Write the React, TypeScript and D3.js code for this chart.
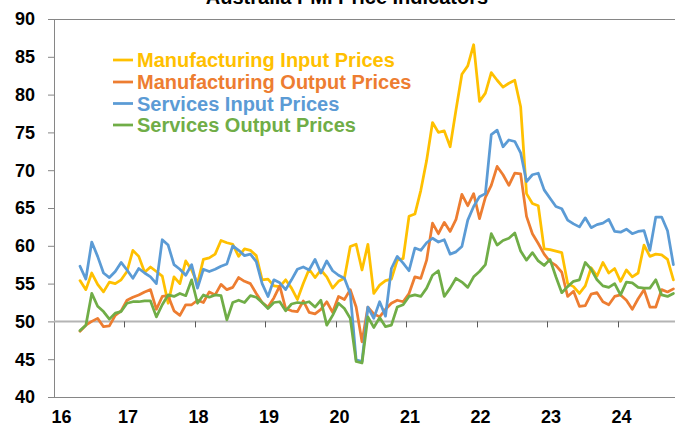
import React from 'react';
import * as d3 from 'd3';

const TITLE = 'Australia PMI Price Indicators';
const seriesNames = [
  'Manufacturing Input Prices',
  'Manufacturing Output Prices',
  'Services Input Prices',
  'Services Output Prices',
];
const seriesColors = ['#FFC000', '#ED7D31', '#5B9BD5', '#70AD47'];
const yTicks = [40, 45, 50, 55, 60, 65, 70, 75, 80, 85, 90];
const yearLabels = ['16', '17', '18', '19', '20', '21', '22', '23', '24'];

// Monthly values, May 2016 onwards
const mfgInput = [
  55.4, 54.2, 56.4, 54.9, 53.9, 55.2, 55.0, 55.5, 56.6, 59.4,
  58.6, 56.5, 57.2, 56.6, 56.0, 52.4, 55.9, 55.0, 58.0, 56.8,
  55.0, 58.2, 58.4, 58.9, 60.7, 60.4, 60.2, 58.6, 59.6, 59.4,
  58.7, 55.5, 55.6, 54.7, 54.6, 55.5, 54.4, 52.9, 55.0, 56.9,
  55.8, 56.8, 55.9, 54.4, 55.3, 55.7, 59.9, 60.2, 56.8, 60.2,
  53.7, 54.8, 55.4, 55.6, 58.1, 58.3, 63.9, 64.2, 67.3, 71.3,
  76.3, 75.0, 75.2, 73.1, 78.0, 82.7, 83.8, 86.6, 79.1, 80.2,
  82.9, 81.9, 81.0, 81.5, 81.9, 78.4, 66.9, 65.6, 65.3, 59.6,
  59.5, 59.3, 59.1, 55.0, 54.6, 53.7, 54.7, 57.1, 56.0, 57.8,
  56.4, 57.0, 55.3, 56.8, 55.9, 56.4, 60.1, 58.6, 58.9, 58.8,
  58.2, 55.5,
];
const mfgOutput = [
  48.7, 49.5, 50.0, 50.4, 49.3, 49.4, 50.8, 51.4, 52.8, 53.2,
  53.5, 53.9, 54.2, 51.6, 53.3, 53.4, 51.4, 50.8, 52.2, 52.2,
  52.8, 52.5, 53.9, 53.5, 54.9, 54.2, 54.5, 55.8, 55.3, 55.0,
  53.7, 52.5, 51.9, 53.1, 54.7, 51.7, 51.4, 51.3, 52.7, 51.2,
  51.0, 51.6, 52.6, 51.2, 53.3, 52.9, 54.2, 51.9, 47.3, 51.9,
  51.0, 50.6, 51.6, 52.4, 52.8, 52.6, 53.7, 55.9, 55.7, 58.1,
  63.0, 61.6, 63.1, 61.9, 63.5, 66.8, 65.3, 66.9, 63.6, 66.4,
  68.0, 70.5, 69.4, 68.0, 69.6, 69.5, 63.9, 61.6, 60.3, 58.9,
  57.9, 57.4, 56.5, 53.3, 54.0, 52.0, 52.1, 53.6, 53.8, 52.6,
  52.2, 53.3, 53.5, 52.8, 51.6, 53.0, 54.2, 51.9, 51.9, 54.2,
  53.9, 54.3,
];
const svcInput = [
  57.3, 55.6, 60.5, 58.6, 56.4, 55.8, 56.6, 57.8, 56.8, 55.7,
  57.0, 56.4, 55.9, 55.0, 60.8, 60.1, 57.5, 56.9, 56.1, 57.5,
  54.4, 56.9, 56.6, 56.9, 57.3, 57.6, 60.0, 59.4, 58.7, 58.9,
  57.9, 55.0, 53.3, 55.5, 55.1, 54.2, 55.5, 56.9, 57.2, 56.8,
  58.2, 56.4, 58.0, 56.7, 56.1, 55.7, 53.7, 44.9, 44.7, 51.9,
  50.4, 52.6, 50.7, 57.0, 58.6, 57.7, 56.7, 59.7, 59.4, 60.4,
  61.0, 60.5, 60.8, 58.9, 59.2, 59.9, 63.4, 65.2, 66.5, 66.9,
  74.7, 75.3, 73.1, 74.0, 73.8, 72.3, 68.5, 69.4, 69.6, 67.4,
  66.3, 65.2, 64.9, 63.4, 62.9, 62.5, 63.7, 62.4, 62.8, 63.0,
  63.5, 61.9, 61.8, 62.2, 61.6, 61.9, 62.0, 59.4, 63.8, 63.8,
  62.0, 57.5,
];
const svcOutput = [
  48.8, 49.5, 53.7, 52.0, 51.3, 50.3, 51.1, 51.3, 52.4, 52.6,
  52.6, 52.7, 52.7, 50.6, 52.2, 53.5, 53.3, 53.7, 53.4, 55.5,
  52.4, 53.5, 53.2, 53.5, 53.4, 50.2, 52.5, 52.8, 52.5, 53.4,
  53.2, 52.5, 51.7, 52.5, 52.6, 51.4, 52.3, 52.5, 52.4, 52.6,
  51.9, 52.8, 49.5, 50.8, 52.4, 51.7, 50.4, 44.7, 44.5, 50.6,
  49.2, 50.5, 49.3, 49.5, 51.9, 52.2, 53.3, 53.5, 53.3, 54.4,
  56.1, 56.7, 53.3, 54.4, 55.7, 55.2, 54.5, 55.9, 56.6, 57.5,
  61.6, 60.1, 60.7, 61.0, 61.7, 59.3, 58.1, 59.1, 58.0, 57.4,
  58.2, 55.9, 53.8, 54.6, 55.3, 55.5, 57.8, 56.9, 55.5, 54.7,
  54.5, 55.0, 53.5, 55.2, 55.1, 54.5, 54.4, 54.4, 55.5, 53.5,
  53.3, 53.7,
];

const allSeries = [mfgInput, mfgOutput, svcInput, svcOutput];

const W = 675;
const H = 427;
const FONT = '"Liberation Sans", Arial, sans-serif';

export default function App() {
  const plotLeft = 54;
  const plotTop = 19;
  const plotBottom = 397;
  const n = mfgInput.length;

  const x = d3.scaleLinear().domain([0, 101]).range([80, 673.4]);
  const y = d3.scaleLinear().domain([40, 90]).range([plotBottom, plotTop]);

  const line = d3
    .line<number>()
    .x((_, i) => x(i))
    .y((d) => y(d));

  const tickIdx = d3.range(7.5, n, 12);
  const labelIdx = yearLabels.map((_, k) => 8 + 12 * (k - 1));

  const legendY = [60, 82, 103.5, 125];

  return (
    <svg
      width={W}
      height={H}
      style={{ position: 'absolute', left: 0, top: 0, background: '#fff' }}
      fontFamily={FONT}
    >
      <rect x={0} y={0} width={W} height={H} fill="#fff" />
      <text
        x={347}
        y={4}
        textAnchor="middle"
        fontSize={20}
        fontWeight="bold"
        fill="#000"
      >
        {TITLE}
      </text>

      {/* plot frame */}
      <line x1={plotLeft} x2={W} y1={plotTop + 0.5} y2={plotTop + 0.5} stroke="#868686" strokeWidth={1} />
      <line x1={plotLeft} x2={W} y1={plotBottom + 0.5} y2={plotBottom + 0.5} stroke="#868686" strokeWidth={1} />
      <line x1={plotLeft + 0.5} x2={plotLeft + 0.5} y1={plotTop} y2={plotBottom} stroke="#868686" strokeWidth={1} />

      {/* y ticks & labels */}
      {yTicks.map((t) => (
        <g key={t}>
          <line x1={plotLeft - 6} x2={plotLeft} y1={y(t) + 0.5} y2={y(t) + 0.5} stroke="#868686" />
          <text
            x={35}
            y={y(t)}
            dy="0.35em"
            textAnchor="end"
            fontSize={18}
            fontWeight="bold"
            fill="#000"
          >
            {t}
          </text>
        </g>
      ))}

      {/* horizontal axis at 50 */}
      <line x1={plotLeft} x2={W} y1={y(50)} y2={y(50)} stroke="#b4b4b4" strokeWidth={2} />
      {tickIdx.map((t) => (
        <line
          key={t}
          x1={Math.round(x(t)) + 0.5}
          x2={Math.round(x(t)) + 0.5}
          y1={y(50)}
          y2={y(50) + 6}
          stroke="#595959"
          strokeWidth={1}
        />
      ))}

      {/* year labels */}
      {yearLabels.map((lab, k) => (
        <text
          key={lab}
          x={k === 0 ? 61.6 : x(labelIdx[k]) + 1}
          y={417}
          dy="0.35em"
          textAnchor="middle"
          fontSize={18}
          fontWeight="bold"
          fill="#000"
        >
          {lab}
        </text>
      ))}

      {/* series */}
      {allSeries.map((s, k) => (
        <path
          key={k}
          d={line(s) || ''}
          fill="none"
          stroke={seriesColors[k]}
          strokeWidth={2.75}
          strokeLinejoin="round"
          strokeLinecap="round"
        />
      ))}

      {/* legend */}
      {seriesNames.map((name, k) => (
        <g key={name}>
          <line
            x1={113}
            x2={133}
            y1={legendY[k]}
            y2={legendY[k]}
            stroke={seriesColors[k]}
            strokeWidth={2.75}
          />
          <text
            x={137}
            y={legendY[k]}
            dy="0.35em"
            fontSize={20}
            fontWeight="bold"
            fill={seriesColors[k]}
          >
            {name}
          </text>
        </g>
      ))}
    </svg>
  );
}
